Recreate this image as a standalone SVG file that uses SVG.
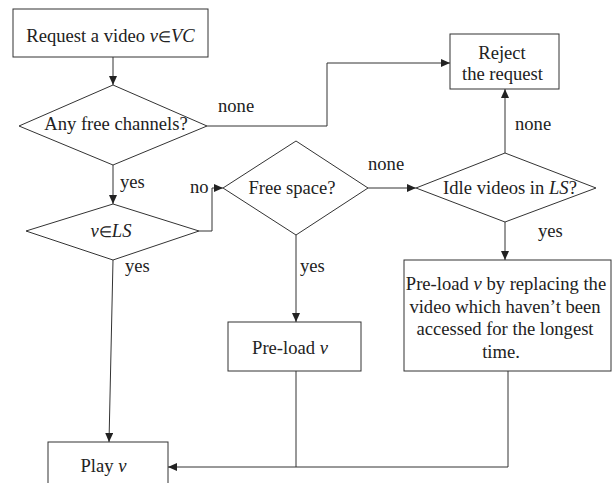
<svg xmlns="http://www.w3.org/2000/svg" width="612" height="483" viewBox="0 0 612 483">
<style>
.s{fill:#fff;stroke:#333;stroke-width:1}
.c{fill:none;stroke:#333;stroke-width:1}
text{font-family:"Liberation Serif","Times New Roman",serif;font-size:18.6px;fill:#222}
.m{text-anchor:middle}
.i{font-style:italic}
.e{font-size:15px}
</style>
<defs>
<marker id="a" markerWidth="10" markerHeight="8" refX="9" refY="4" orient="auto" markerUnits="userSpaceOnUse">
<path d="M0,0 L9,4 L0,8 z" fill="#222"/>
</marker>
</defs>
<rect width="612" height="483" fill="#fff"/>
<g id="connectors">
<path class="c" d="M113,57 V85" marker-end="url(#a)"/>
<path class="c" d="M207,126 H327 V63 H450" marker-end="url(#a)"/>
<path class="c" d="M113,165 V204" marker-end="url(#a)"/>
<path class="c" d="M199,231 H212 V188 H223" marker-end="url(#a)"/>
<path class="c" d="M368,188 H416" marker-end="url(#a)"/>
<path class="c" d="M505,153 V89" marker-end="url(#a)"/>
<path class="c" d="M505,222 V260" marker-end="url(#a)"/>
<path class="c" d="M296,235 V322" marker-end="url(#a)"/>
<path class="c" d="M113,260 L109,442" marker-end="url(#a)"/>
<path class="c" d="M296,371 V467"/>
<path class="c" d="M508,371 V467 H168" marker-end="url(#a)"/>
<text x="218" y="112">none</text>
<text x="120" y="188">yes</text>
<text x="190" y="193">no</text>
<text x="368" y="170">none</text>
<text x="515" y="130">none</text>
<text x="538" y="237">yes</text>
<text x="300" y="272">yes</text>
<text x="125" y="272">yes</text>
</g>
<g id="request">
<rect class="s" x="13" y="9" width="195" height="48"/>
<text class="m" x="110.5" y="42">Request a video <tspan class="i">v</tspan><tspan class="e">∈</tspan><tspan class="i">VC</tspan></text>
</g>
<g id="free-channels">
<polygon class="s" points="19,126 113,85 207,126 113,165"/>
<text class="m" x="116" y="130">Any free channels?</text>
</g>
<g id="in-ls">
<polygon class="s" points="26,231 113,204 199,231 113,260"/>
<text class="m" x="111" y="237"><tspan class="i">v</tspan><tspan class="e">∈</tspan><tspan class="i">LS</tspan></text>
</g>
<g id="free-space">
<polygon class="s" points="223,188 296,141 368,188 296,235"/>
<text class="m" x="292" y="194">Free space?</text>
</g>
<g id="idle-videos">
<polygon class="s" points="416,188 505,153 596,188 505,222"/>
<text class="m" x="510" y="194">Idle videos in <tspan class="i">LS</tspan>?</text>
</g>
<g id="reject">
<rect class="s" x="450" y="34" width="109" height="55"/>
<text class="m" x="502" y="59">Reject</text>
<text class="m" x="502.5" y="80">the request</text>
</g>
<g id="preload-replace">
<rect class="s" x="404" y="260" width="207" height="111"/>
<text class="m" x="506" y="290">Pre-load <tspan class="i">v</tspan> by replacing the</text>
<text class="m" x="505" y="312.5">video which haven’t been</text>
<text class="m" x="505" y="335">accessed for the longest</text>
<text class="m" x="501" y="357.5">time.</text>
</g>
<g id="preload">
<rect class="s" x="228" y="322" width="133" height="49"/>
<text class="m" x="290" y="354">Pre-load <tspan class="i">v</tspan></text>
</g>
<g id="play">
<rect class="s" x="48" y="442" width="120" height="50"/>
<text class="m" x="103.5" y="472">Play <tspan class="i">v</tspan></text>
</g>
</svg>
